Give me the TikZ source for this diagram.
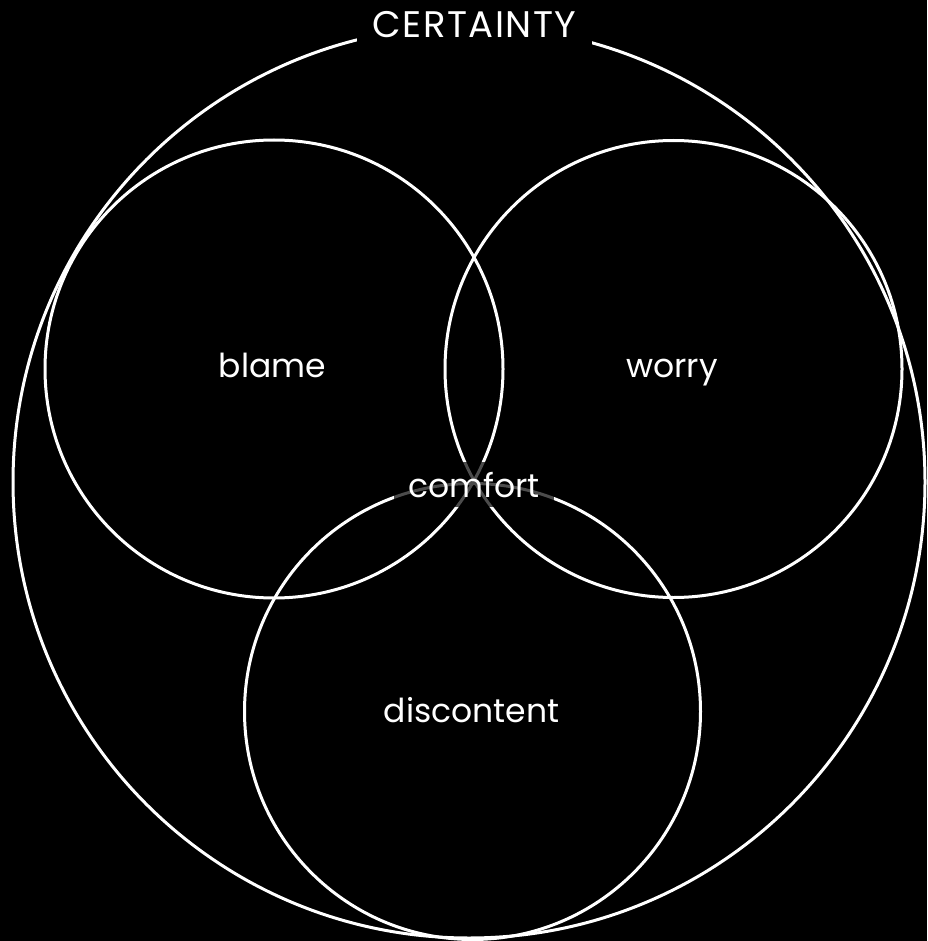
\documentclass[tikz,border=0pt]{standalone}
\usepackage{fontspec}
\setmainfont{Poppins}
\begin{document}
\begin{tikzpicture}[x=1pt,y=-1pt,
  ring/.style={draw=white,line width=3pt},
  lbl/.style={text=white,anchor=base,inner sep=0pt,font=\fontsize{33}{38}\selectfont},
  tag/.style={text=white,anchor=base,fill=black,inner xsep=16pt,inner ysep=8pt,font=\fontsize{37}{42}\selectfont\addfontfeatures{LetterSpace=4}}]
\fill[black] (0,0) rectangle (927,941);
\useasboundingbox (0,0) rectangle (927,941);
\draw[ring] (469,482) circle (456);
\draw[ring] (274,369) circle (229);
\draw[ring] (673.5,369) circle (228.5);
\draw[ring] (472.5,711.5) circle (228);
\node[tag] (certainty) at (474.5,38) {CERTAINTY};
\node[lbl] (blame) at (272.5,377) {blame};
\node[lbl] (worry) at (672,377) {worry};
\node[lbl] (discontent) at (471.5,722) {discontent};
\node[lbl,fill=black,fill opacity=0.7,text opacity=1,inner xsep=14pt,inner ysep=10pt] (comfort) at (474,497) {comfort};
\end{tikzpicture}
\end{document}
